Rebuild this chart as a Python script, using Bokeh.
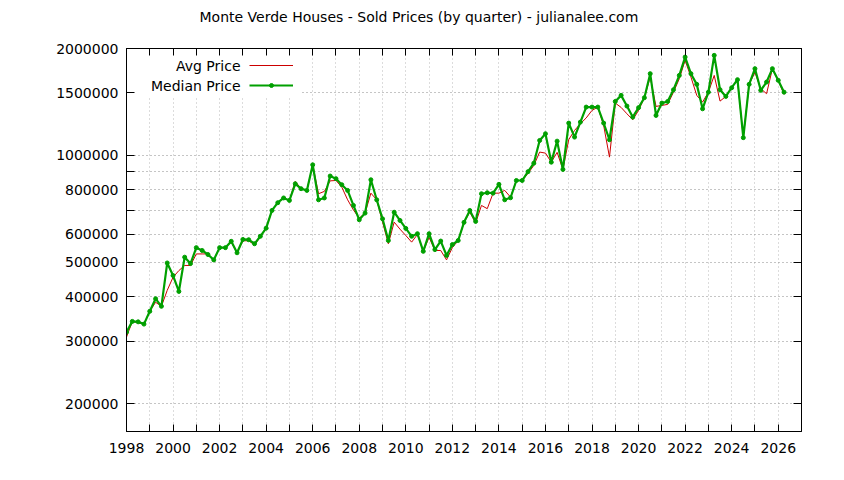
from bokeh.plotting import figure
from bokeh.models import (FixedTicker, LinearAxis, LogAxis, Range1d, Legend,
                          LegendItem, Label, BoxAnnotation)
from bokeh.embed import file_html
from bokeh.resources import INLINE

FONT = "DejaVu Sans"

# ---------------- data (thousands of dollars, by quarter) ----------------
start_year = 1998
median_k = [
    318, 341, 340, 335,      # 1998
    364, 395, 376, 498,      # 1999
    459, 414, 517, 496,      # 2000
    550, 540, 526, 508,      # 2001
    550, 550, 573, 532,      # 2002
    580, 579, 564, 592,      # 2003
    624, 700, 736, 759,      # 2004
    747, 832, 806, 797,      # 2005
    941, 750, 759, 875,      # 2006
    860, 827, 797, 723,      # 2007
    659, 688, 854, 750,      # 2008
    663, 576, 692, 656,      # 2009
    623, 592, 602, 537,      # 2010
    602, 543, 574, 523,      # 2011
    561, 576, 648, 700,      # 2012
    652, 780, 785, 783,      # 2013
    829, 750, 760, 850,      # 2014
    850, 900, 951, 1102,     # 2015
    1151, 957, 1097, 913,    # 2016
    1233, 1126, 1241, 1368,  # 2017
    1368, 1368, 1233, 1107,  # 2018
    1419, 1476, 1377, 1282,  # 2019
    1363, 1454, 1699, 1296,  # 2020
    1404, 1419, 1531, 1680,  # 2021
    1892, 1699, 1585, 1353,  # 2022
    1507, 1913, 1531, 1466,  # 2023
    1551, 1634, 1122, 1585,  # 2024
    1755, 1525, 1609, 1755,  # 2025
    1627, 1507,              # 2026
]
avg_k = [
    308, 341, 338, 335,
    364, 386, 376, 417,
    454, 474, 490, 490,
    528, 528, 528, 508,
    550, 550, 570, 532,
    575, 575, 560, 590,
    624, 700, 736, 759,
    747, 845, 806, 797,
    941, 780, 792, 848,
    850, 814, 750, 702,
    666, 688, 783, 750,
    649, 564, 649, 620,
    595, 570, 599, 537,
    588, 540, 540, 508,
    550, 576, 648, 692,
    645, 723, 708, 783,
    783, 797, 763, 850,
    850, 890, 937, 1022,
    1015, 957, 1020, 913,
    1108, 1176, 1228, 1275,
    1339, 1368, 1215, 989,
    1404, 1365, 1310, 1260,
    1339, 1454, 1662, 1374,
    1383, 1392, 1507, 1644,
    1852, 1662, 1476, 1413,
    1507, 1680, 1422, 1466,
    1551, 1634, 1122, 1585,
    1713, 1540, 1492, 1755,
    1627, 1485,
]
series_names = ["Avg Price", "Median Price"]
title_text = "Monte Verde Houses - Sold Prices (by quarter) - julianalee.com"

x_tick_values = list(range(1998, 2027))
x_tick_labels = [str(y) if y % 2 == 0 else "" for y in x_tick_values]
y_tick_values = [200000, 300000, 400000, 500000, 600000, 700000, 800000,
                 900000, 1000000, 1500000, 2000000]
y_tick_labels = ["200000", "300000", "400000", "500000", "600000", "",
                 "800000", "", "1000000", "1500000", "2000000"]

quarters = [start_year + 0.25 * i for i in range(len(median_k))]
median = [v * 1000 for v in median_k]
avg = [v * 1000 for v in avg_k]

# ---------------- styles ----------------
RED = "#cc0000"
GREEN = "#00a000"
X0, X1 = 1998, 2027
Y0, Y1 = 167000, 2000000

p = figure(width=836, height=472, y_axis_type="log",
           x_range=Range1d(X0, X1), y_range=Range1d(Y0, Y1),
           output_backend="svg", toolbar_location=None,
           min_border_left=126, min_border_right=35,
           min_border_top=48, min_border_bottom=41)

p.title.text = title_text
p.title.align = "left"
p.title.offset = 73
p.title.vertical_align = "bottom"
p.title.standoff = 10
p.title.text_font = FONT
p.title.text_font_size = "14px"
p.title.text_font_style = "normal"
p.title.text_color = "black"

p.outline_line_color = "black"
p.outline_line_width = 1
p.background_fill_color = "white"
p.border_fill_color = "white"

xticker = FixedTicker(ticks=x_tick_values)
yticker = FixedTicker(ticks=y_tick_values)
x_over = {t: l for t, l in zip(x_tick_values, x_tick_labels)}
y_over = {t: l for t, l in zip(y_tick_values, y_tick_labels)}

def style_axis(ax, ticker, overrides, show_labels, tick_len, blank=""):
    ax.ticker = ticker
    ax.major_label_overrides = overrides if show_labels else {t: blank for t in overrides}
    ax.major_tick_in = tick_len
    ax.major_tick_out = 0
    ax.minor_tick_in = 0
    ax.minor_tick_out = 0
    ax.axis_line_color = "black"
    ax.major_tick_line_color = "black"
    ax.major_label_text_font = FONT
    ax.major_label_text_font_size = "14px"
    ax.major_label_text_color = "black"

xb = p.xaxis[0]
style_axis(xb, xticker, x_over, True, 7)
xb.major_label_standoff = 11
yl = p.yaxis[0]
style_axis(yl, yticker, y_over, True, 8)
yl.major_label_standoff = 8

# mirrored top axis: ticks only; its blank labels keep room for the title
xt = LinearAxis()
style_axis(xt, xticker, x_over, False, 7, blank=" ")
xt.major_label_standoff = 0
p.add_layout(xt, "above")
yr = LogAxis()
style_axis(yr, yticker, y_over, False, 8)
yr.major_label_text_font_size = "1px"
p.add_layout(yr, "right")

p.xgrid.ticker = xticker
p.ygrid.ticker = yticker
p.xgrid.grid_line_color = "#b8b8b8"
p.xgrid.grid_line_dash = "1 3"
p.ygrid.grid_line_color = "#8a8a8a"
p.ygrid.grid_line_dash = "1 3"

# legend background (top-left corner)
box = BoxAnnotation(right=2005.47, bottom=1466000, fill_color="white",
                    fill_alpha=1.0, line_alpha=0, level="underlay")
p.add_layout(box)

r_avg = p.line(quarters, avg, color=RED, line_width=1)
r_med = p.line(quarters, median, color=GREEN, line_width=2.2)
r_pts = p.scatter(quarters, median, size=4, color=GREEN)

legend = Legend(items=[LegendItem(label=" ", renderers=[r_avg]),
                       LegendItem(label=" ", renderers=[r_med, r_pts])],
                location=(123, 336), glyph_width=44, glyph_height=10,
                label_height=20, label_width=0, label_standoff=0,
                spacing=0, padding=0, margin=0, border_line_alpha=0,
                background_fill_alpha=0, label_text_font_size="1px")
p.add_layout(legend)

for i, name in enumerate(series_names):
    p.add_layout(Label(x=X0, y=Y1, x_offset=114, y_offset=-17 - 20 * i,
                       text=name, text_align="right", text_baseline="middle",
                       text_font=FONT, text_font_size="14px", text_color="black"))

open("out.html", "w").write(file_html(p, INLINE))
